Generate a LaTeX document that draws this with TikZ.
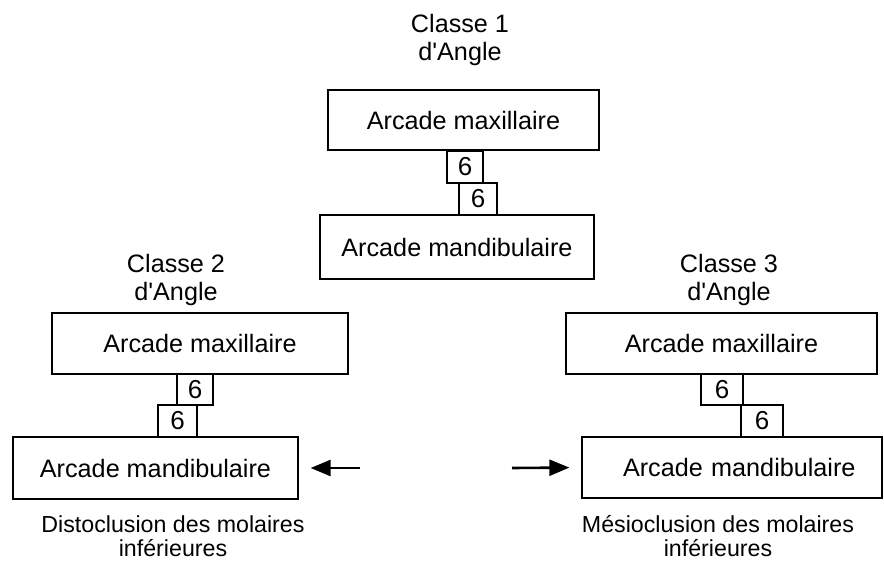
\documentclass[tikz,border=0pt]{standalone}
\usepackage{fontspec}
\setmainfont{Liberation Sans}[Ligatures=TeXOff]
\usetikzlibrary{arrows.meta}
\begin{document}
\begin{tikzpicture}[x=1pt,y=-1pt,
  box/.style={draw,line width=1.3pt,fill=white,inner sep=0pt,font=\fontsize{25.2}{30}\selectfont},
  tooth/.style={draw,line width=1.3pt,fill=white,inner sep=0pt,font=\fontsize{26}{28}\selectfont},
  lbl/.style={align=center,inner sep=0pt,font=\fontsize{25.2}{27.5}\selectfont},
  capt/.style={align=center,inner sep=0pt,font=\fontsize{23.2}{23.5}\selectfont},
  arr/.style={line width=2.6pt,-{Triangle[length=20pt,width=16pt]}}]
\clip (0,0) rectangle (884,561);
\useasboundingbox (0,0) rectangle (884,561);
% Classe 1
\node[lbl] (l1) at (460,40) {Classe 1\\d'Angle};
\node[box,minimum width=271pt,minimum height=60pt] (max1) at (463.5,120) {Arcade maxillaire};
\node[tooth,minimum width=38pt,minimum height=32pt] (t1b) at (478,199) {6};
\node[tooth,minimum width=36pt,minimum height=32pt] (t1a) at (465,167) {6};
\node[box,minimum width=274pt,minimum height=64pt] (mand1) at (457,247) {Arcade mandibulaire};
% Classe 2
\node[lbl] (l2) at (176,280) {Classe 2\\d'Angle};
\node[box,minimum width=296pt,minimum height=61pt] (max2) at (200,343.5) {Arcade maxillaire};
\node[tooth,minimum width=39pt,minimum height=32pt] (t2b) at (177.5,421) {6};
\node[tooth,minimum width=36pt,minimum height=31pt] (t2a) at (195,389.5) {6};
\node[box,minimum width=285pt,minimum height=62pt] (mand2) at (155.5,468) {Arcade mandibulaire};
\coordinate (a2) at (360,468);
\draw[arr,shorten >=12pt] (a2) -- (mand2.east);
\node[capt] (c2) at (173,536) {Distoclusion des molaires\\inférieures};
% Classe 3
\node[lbl] (l3) at (729,280) {Classe 3\\d'Angle};
\node[box,minimum width=311pt,minimum height=61pt] (max3) at (721.5,343.5) {Arcade maxillaire};
\node[tooth,minimum width=42pt,minimum height=32pt] (t3b) at (762,421) {6};
\node[tooth,minimum width=42pt,minimum height=31pt] (t3a) at (722,389.5) {6};
\node[box,minimum width=300pt,minimum height=61pt,text width=300pt,align=left] (mand3) at (732,467.5) {\hspace*{41pt}Arcade mandibulaire};
\coordinate (a3) at (512,468);
\draw[arr,shorten >=12pt] (a3) -- (mand3.west);
\node[capt] (c3) at (718,536) {Mésioclusion des molaires\\inférieures};
\end{tikzpicture}
\end{document}
